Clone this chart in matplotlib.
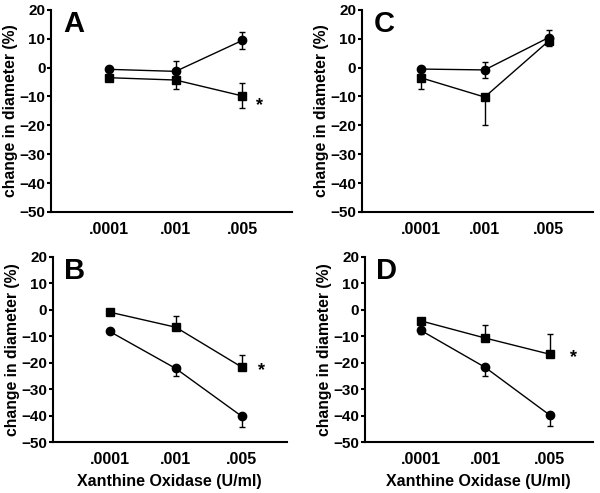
import matplotlib
matplotlib.use('Agg')
import matplotlib.pyplot as plt
import numpy as np

plt.rcParams['font.family'] = ['Liberation Sans', 'DejaVu Sans']
plt.rcParams['font.weight'] = 'bold'

doses = ['.0001', '.001', '.005']
xpos = [1, 2, 3]

# panel A
a_circ = [-0.6, -1.3, 9.4]
a_circ_lo = [0.5, 0, 3.0]
a_circ_hi = [0.5, 3.6, 3.0]
a_sq = [-3.5, -4.3, -9.8]
a_sq_lo = [0.5, 3.0, 4.2]
a_sq_hi = [0.5, 0, 4.6]

# panel B
b_circ = [-8.2, -22.2, -40.3]
b_circ_lo = [0.5, 3.0, 4.0]
b_circ_hi = [0, 0, 0]
b_sq = [-0.9, -6.6, -21.7]
b_sq_lo = [0, 0, 0]
b_sq_hi = [0.5, 4.1, 4.7]

# panel C
c_circ = [-0.5, -0.8, 10.4]
c_circ_lo = [0.5, 2.7, 2.0]
c_circ_hi = [0.5, 2.7, 2.5]
c_sq = [-3.5, -10.2, 9.2]
c_sq_lo = [4.0, 9.7, 1.8]
c_sq_hi = [0, 0, 1.0]

# panel D
d_circ = [-7.8, -21.8, -39.8]
d_circ_lo = [1.5, 3.4, 4.1]
d_circ_hi = [0, 0, 0]
d_sq = [-4.2, -10.7, -16.8]
d_sq_lo = [0, 0, 0]
d_sq_hi = [1.0, 4.9, 7.6]

panels = [
    # letter, rect, xlim, circ, circ err, sq, sq err, star (x, y), xlabel
    ('A', [0.085, 0.570, 0.402, 0.410], (0.13, 3.75),
     a_circ, [a_circ_lo, a_circ_hi], a_sq, [a_sq_lo, a_sq_hi], (3.26, -13), False),
    ('C', [0.603, 0.570, 0.385, 0.410], (0.08, 3.69),
     c_circ, [c_circ_lo, c_circ_hi], c_sq, [c_sq_lo, c_sq_hi], None, False),
    ('B', [0.088, 0.1034, 0.390, 0.3756], (0.14, 3.68),
     b_circ, [b_circ_lo, b_circ_hi], b_sq, [b_sq_lo, b_sq_hi], (3.3, -23), True),
    ('D', [0.608, 0.1034, 0.380, 0.3756], (0.13, 3.67),
     d_circ, [d_circ_lo, d_circ_hi], d_sq, [d_sq_lo, d_sq_hi], (3.37, -18), True),
]

fig = plt.figure(figsize=(6, 4.93), dpi=100)

for letter, rect, xlim, circ, circ_err, sq, sq_err, star, show_xlabel in panels:
    ax = fig.add_axes(rect)
    ax.errorbar(xpos, sq, yerr=sq_err, fmt='s-', color='black', ms=6,
                lw=1.0, elinewidth=1.0, capsize=2, capthick=1.0)
    ax.errorbar(xpos, circ, yerr=circ_err, fmt='o-', color='black', ms=6,
                lw=1.0, elinewidth=1.0, capsize=2, capthick=1.0)
    ax.set_xlim(*xlim)
    ax.set_ylim(-50, 20)
    ax.set_yticks(np.arange(-50, 21, 10))
    ax.set_xticks(xpos)
    ax.set_xticklabels(doses)
    for s in ['top', 'right']:
        ax.spines[s].set_visible(False)
    for s in ['left', 'bottom']:
        ax.spines[s].set_linewidth(1.5)
    ax.tick_params(axis='y', length=3, width=1.5, labelsize=11, pad=1)
    ax.tick_params(axis='x', length=0, labelsize=11.5, pad=7)
    ax.set_ylabel('change in diameter (%)', fontsize=11.3, fontweight='bold', labelpad=1)
    ax.text(0.05, 1.0, letter, transform=ax.transAxes, fontsize=21,
            fontweight='bold', va='top', ha='left')
    if star is not None:
        ax.text(star[0], star[1], '*', fontsize=13, fontweight='bold',
                ha='center', va='center')
    if show_xlabel:
        ax.set_xlabel('Xanthine Oxidase (U/ml)', fontsize=11.5, fontweight='bold', labelpad=5)

fig.savefig('out.png', dpi=100)
